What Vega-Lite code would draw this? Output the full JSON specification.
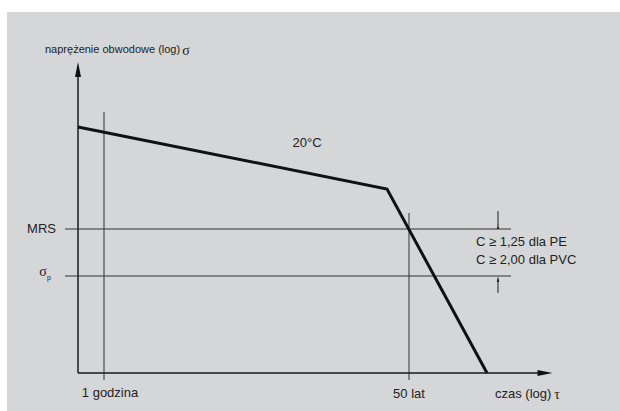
{
  "$schema": "https://vega.github.io/schema/vega-lite/v6.json",
  "width": 620,
  "height": 411,
  "autosize": {"type": "fit", "contains": "padding"},
  "padding": {"left": 7, "top": 12, "right": 0, "bottom": 0},
  "background": "white",
  "view": {"fill": "#d5d6d8", "stroke": null},
  "config": {"text": {"font": "Liberation Sans", "fontSize": 13, "color": "#222222"}},
  "datasets": {
    "guides": [
      {"x": 26, "y": -7, "x2": 26, "y2": 261},
      {"x": 331, "y": -7, "x2": 331, "y2": 160},
      {"x": -13, "y": 144, "x2": 433, "y2": 144},
      {"x": -13, "y": 97, "x2": 433, "y2": 97}
    ],
    "axes": [
      {"x": 0, "y": 0, "x2": 0, "y2": 300},
      {"x": 0, "y": 0, "x2": 465, "y2": 0}
    ],
    "curve": [
      {"x": 0, "y": 246, "o": 0},
      {"x": 309, "y": 184, "o": 1},
      {"x": 409, "y": 0, "o": 2}
    ],
    "shafts": [
      {"x": 420, "y": 162, "x2": 420, "y2": 148},
      {"x": 420, "y": 80, "x2": 420, "y2": 94}
    ],
    "bigheads": [
      {"x": 0, "y": 303.5, "dir": "up"},
      {"x": 467, "y": 0, "dir": "right"}
    ],
    "smallheads": [
      {"x": 420, "y": 147, "dir": "down"},
      {"x": 420, "y": 94, "dir": "up"}
    ],
    "textTitle": [
      {"x": -33, "y": 323, "t": "naprężenie obwodowe (log)"}
    ],
    "textLeft": [
      {"x": 417, "y": -21, "t": "czas (log)"},
      {"x": 398, "y": 131, "t": "C ≥ 1,25 dla PE"},
      {"x": 398, "y": 113, "t": "C ≥ 2,00 dla PVC"}
    ],
    "textCenter": [
      {"x": 32, "y": -20, "t": "1 godzina"},
      {"x": 331, "y": -21, "t": "50 lat"},
      {"x": 229, "y": 230, "t": "20°C"}
    ],
    "textRight": [
      {"x": -22, "y": 144, "t": "MRS"}
    ],
    "serif": [
      {"x": 108, "y": 322, "t": "σ"},
      {"x": 479, "y": -22, "t": "τ"},
      {"x": -35, "y": 101, "t": "σ"}
    ],
    "sub": [
      {"x": -29, "y": 95, "t": "p"}
    ]
  },
  "encoding": {
    "x": {"field": "x", "type": "quantitative", "scale": {"domain": [-71, 542], "nice": false, "zero": false}, "axis": null},
    "y": {"field": "y", "type": "quantitative", "scale": {"domain": [-38, 361], "nice": false, "zero": false}, "axis": null}
  },
  "layer": [
    {
      "data": {"name": "guides"},
      "mark": {"type": "rule", "stroke": "#333333", "strokeWidth": 1},
      "encoding": {"x2": {"field": "x2"}, "y2": {"field": "y2"}}
    },
    {
      "data": {"name": "axes"},
      "mark": {"type": "rule", "stroke": "#1a1a1a", "strokeWidth": 1.5},
      "encoding": {"x2": {"field": "x2"}, "y2": {"field": "y2"}}
    },
    {
      "data": {"name": "curve"},
      "mark": {"type": "line", "stroke": "#111111", "strokeWidth": 3, "strokeJoin": "miter"},
      "encoding": {"order": {"field": "o", "type": "quantitative"}}
    },
    {
      "data": {"name": "shafts"},
      "mark": {"type": "rule", "stroke": "#222222", "strokeWidth": 1},
      "encoding": {"x2": {"field": "x2"}, "y2": {"field": "y2"}}
    },
    {
      "data": {"name": "bigheads"},
      "mark": {"type": "point", "filled": true, "fill": "#111111", "opacity": 1, "size": 225, "strokeWidth": 0},
      "encoding": {
        "shape": {"field": "dir", "type": "nominal", "legend": null,
          "scale": {"domain": ["up", "right"], "range": ["M0,-1L0.4,1L-0.4,1Z", "M1,0L-1,-0.4L-1,0.4Z"]}}
      }
    },
    {
      "data": {"name": "smallheads"},
      "mark": {"type": "point", "filled": true, "fill": "#222222", "opacity": 1, "size": 36, "strokeWidth": 0},
      "encoding": {
        "shape": {"field": "dir", "type": "nominal", "legend": null,
          "scale": {"domain": ["down", "up"], "range": ["M0,1L-0.6,-1L0.6,-1Z", "M0,-1L0.6,1L-0.6,1Z"]}}
      }
    },
    {
      "data": {"name": "textTitle"},
      "mark": {"type": "text", "align": "left", "baseline": "middle", "fontSize": 11},
      "encoding": {"text": {"field": "t"}}
    },
    {
      "data": {"name": "textLeft"},
      "mark": {"type": "text", "align": "left", "baseline": "middle"},
      "encoding": {"text": {"field": "t"}}
    },
    {
      "data": {"name": "textCenter"},
      "mark": {"type": "text", "align": "center", "baseline": "middle"},
      "encoding": {"text": {"field": "t"}}
    },
    {
      "data": {"name": "textRight"},
      "mark": {"type": "text", "align": "right", "baseline": "middle"},
      "encoding": {"text": {"field": "t"}}
    },
    {
      "data": {"name": "serif"},
      "mark": {"type": "text", "align": "center", "baseline": "middle", "font": "Liberation Serif", "fontSize": 14},
      "encoding": {"text": {"field": "t"}}
    },
    {
      "data": {"name": "sub"},
      "mark": {"type": "text", "align": "center", "baseline": "middle", "fontSize": 7},
      "encoding": {"text": {"field": "t"}}
    }
  ]
}
